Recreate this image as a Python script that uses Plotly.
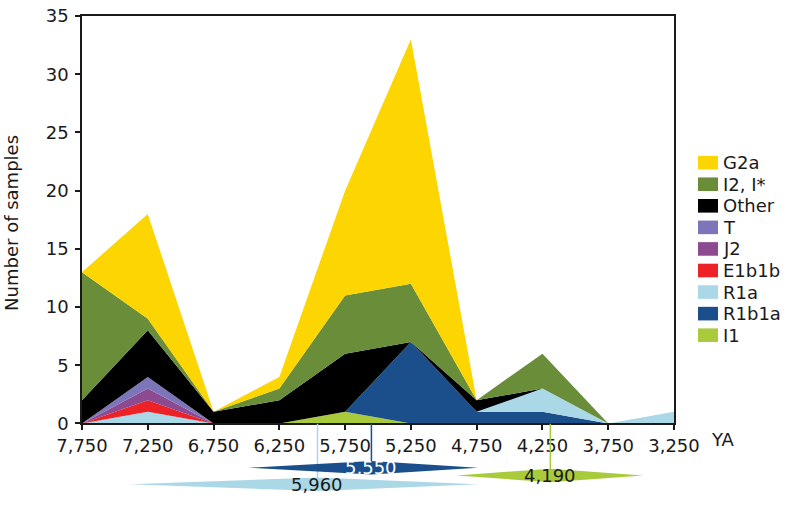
import plotly.graph_objects as go

# ---------------- data ----------------
years = [7750, 7250, 6750, 6250, 5750, 5250, 4750, 4250, 3750, 3250]

I1    = [0, 0, 0, 0, 1, 0, 0, 0, 0, 0]
R1b1a = [0, 0, 0, 0, 0, 7, 1, 1, 0, 0]
R1a   = [0, 1, 0, 0, 0, 0, 0, 2, 0, 1]
E1b1b = [0, 1, 0, 0, 0, 0, 0, 0, 0, 0]
J2    = [0, 1, 0, 0, 0, 0, 0, 0, 0, 0]
T     = [0, 1, 0, 0, 0, 0, 0, 0, 0, 0]
Other = [2, 4, 1, 2, 5, 0, 1, 0, 0, 0]
I2    = [11, 1, 0, 1, 5, 5, 0, 3, 0, 0]
G2a   = [0, 9, 0, 1, 9, 21, 0, 0, 0, 0]

# stacking order, bottom -> top
series_names  = ["I1", "R1b1a", "R1a", "E1b1b", "J2", "T", "Other", "I2, I*", "G2a"]
series_values = [I1, R1b1a, R1a, E1b1b, J2, T, Other, I2, G2a]
series_colors = ["#A9CB3B", "#1A4F8B", "#AAD8E6", "#EC2227", "#8C4A90",
                 "#7C75B9", "#000000", "#6A8D3A", "#FDD500"]

y_ticks = [0, 5, 10, 15, 20, 25, 30, 35]
x_ticks = years
y_title = "Number of samples"
x_unit = "YA"

# date estimates (kite shapes below the axis)
est_values = [5960, 5550, 4190]
est_lo     = [7385, 6485, 4905]
est_hi     = [4740, 4740, 3485]
est_colors = ["#AAD8E6", "#1A4F8B", "#A9CB3B"]
est_text_colors = ["#1a1a1a", "#ffffff", "#1a1a1a"]

# ---------------- layout helpers ----------------
W, H = 788, 506
ML, MR, MT, MB = 82, 114, 12, 5
PW, PH = W - ML - MR, H - MT - MB
AXIS_PX = 431.5
STRIP = H - MB - AXIS_PX


def px_x(p):
    return (p - ML) / PW


def px_y(p):
    return (H - MB - p) / PH


FONT = "DejaVu Sans, Liberation Sans, Arial, sans-serif"
FS = 18
TXT = "#1a1a1a"

fig = go.Figure()

for name, vals, col in zip(series_names, series_values, series_colors):
    fig.add_trace(go.Scatter(
        x=years, y=vals, name=name, mode="lines", stackgroup="one",
        line=dict(width=0, color=col), fillcolor=col, showlegend=False,
        hoverinfo="x+y+name",
    ))

# kite shapes for date estimates on a lower strip axis
est_rows = [7, 24, 16]
HALF = 7
for v, col, row in zip(est_values, est_colors, est_rows):
    fig.add_trace(go.Scatter(
        x=[v, v], y=[STRIP, row], xaxis="x", yaxis="y2",
        mode="lines", line=dict(color=col, width=1.5), showlegend=False,
        hoverinfo="skip",
    ))
for v, lo, hi, col, row in zip(est_values, est_lo, est_hi, est_colors, est_rows):
    fig.add_trace(go.Scatter(
        x=[lo, v, hi, v, lo], y=[row, row + HALF, row, row - HALF, row],
        xaxis="x", yaxis="y2", mode="lines", fill="toself",
        fillcolor=col, line=dict(width=0, color=col), showlegend=False,
        hoverinfo="skip",
    ))

annotations = []
for v, row, tc in zip(est_values, est_rows, est_text_colors):
    annotations.append(dict(
        x=v, y=row, xref="x", yref="y2", text=f"{v:,}", showarrow=False,
        font=dict(family=FONT, size=FS, color=tc), xanchor="center", yanchor="middle",
    ))

# "YA" unit after last tick
annotations.append(dict(
    x=px_x(709), y=px_y(448), xref="paper", yref="paper", text=x_unit,
    showarrow=False, xanchor="left", yanchor="middle",
    font=dict(family=FONT, size=FS, color=TXT),
))

# y-axis title
annotations.append(dict(
    x=px_x(12), y=px_y(225), xref="paper", yref="paper", text=y_title,
    showarrow=False, textangle=-90, xanchor="center", yanchor="middle",
    font=dict(family=FONT, size=FS, color=TXT),
))

# legend (top entry = top of stack)
shapes = []
LEG_Y0, LEG_DY = 163, 22.2
for i, (name, col) in enumerate(zip(series_names[::-1], series_colors[::-1])):
    cy = LEG_Y0 + i * LEG_DY
    shapes.append(dict(
        type="rect", xref="paper", yref="paper",
        x0=px_x(698), x1=px_x(718), y0=px_y(cy + 7), y1=px_y(cy - 7),
        fillcolor=col, line=dict(width=0),
    ))
    annotations.append(dict(
        x=px_x(721), y=px_y(cy), xref="paper", yref="paper", text=name,
        showarrow=False, xanchor="left", yanchor="middle",
        font=dict(family=FONT, size=FS, color=TXT),
    ))

fig.update_layout(
    width=W, height=H,
    margin=dict(l=ML, r=MR, t=MT, b=MB, pad=0),
    paper_bgcolor="white", plot_bgcolor="white",
    showlegend=False,
    font=dict(family=FONT, size=FS, color=TXT),
    xaxis=dict(
        range=[7750, 3250], tickvals=x_ticks, tickformat=",d",
        ticks="outside", ticklen=5, tickwidth=1.5, tickcolor=TXT,
        showline=True, linecolor=TXT, linewidth=1.5, mirror=True,
        showgrid=False, zeroline=False, anchor="y",
        tickfont=dict(family=FONT, size=FS, color=TXT),
    ),
    yaxis=dict(
        domain=[px_y(AXIS_PX), 1], range=[0, 35], tickvals=y_ticks,
        ticks="outside", ticklen=5, tickwidth=1.5, tickcolor=TXT,
        ticklabelstandoff=3,
        showline=True, linecolor=TXT, linewidth=1.5, mirror=True,
        showgrid=False, zeroline=False,
        tickfont=dict(family=FONT, size=FS, color=TXT),
    ),
    yaxis2=dict(
        domain=[0, px_y(AXIS_PX)], range=[0, STRIP], visible=False,
        anchor="x", fixedrange=True,
    ),
    shapes=shapes,
    annotations=annotations,
)

fig.write_html("out.html", config={"displayModeBar": False},
               post_script="document.body.style.margin='0px';")
